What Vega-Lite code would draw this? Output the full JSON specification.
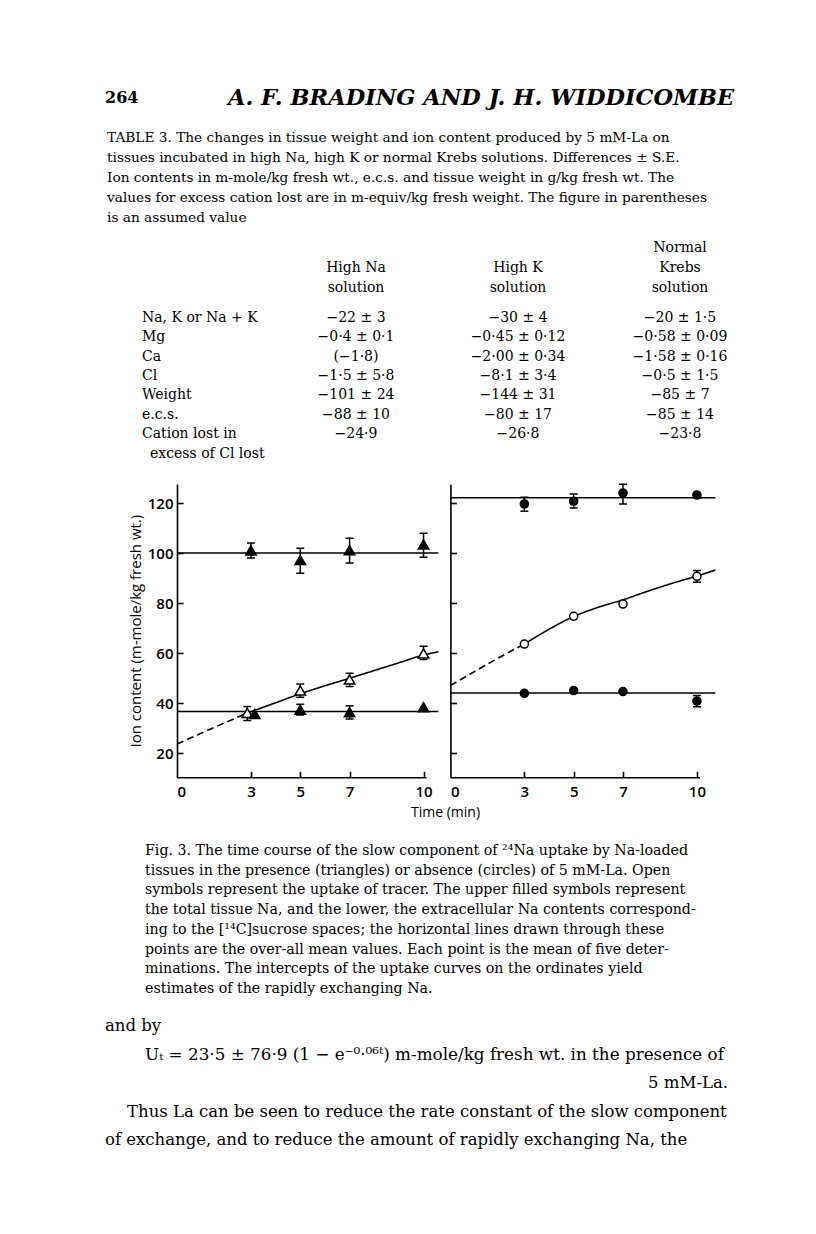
{
  "$schema": "https://vega.github.io/schema/vega-lite/v6.json",
  "background": "white",
  "padding": {"left": 105, "top": 87, "right": 10, "bottom": 10},
  "bounds": "flush",
  "spacing": 0,
  "config": {
    "view": {"stroke": null},
    "axis": {"grid": false, "domainColor": "black", "domainWidth": 1.6, "tickColor": "black", "tickWidth": 1.6, "tickSize": 6, "labelColor": "black", "labelFont": "Open Sans", "labelFontSize": 15, "labelFontWeight": 600, "titleColor": "black", "titleFont": "Open Sans", "titleFontWeight": "normal", "titleFontSize": 15, "zindex": 1},
    "axisX": {"labelPadding": 7, "titlePadding": 6, "titleFontSize": 14},
    "axisY": {"labelPadding": 4, "titlePadding": 4},
    "line": {"interpolate": "monotone"},
    "text": {"color": "black"}
  },
  "datasets": {
    "measurements": [
      {"panel": "La", "series": "total tissue Na", "t": 3, "v": 101.1},
      {"panel": "La", "series": "total tissue Na", "t": 5, "v": 97.3},
      {"panel": "La", "series": "total tissue Na", "t": 7, "v": 101.2},
      {"panel": "La", "series": "total tissue Na", "t": 10, "v": 103.5},
      {"panel": "La", "series": "tracer uptake", "t": 2.85, "v": 36.1},
      {"panel": "La", "series": "tracer uptake", "t": 5, "v": 45.1},
      {"panel": "La", "series": "tracer uptake", "t": 7, "v": 49.5},
      {"panel": "La", "series": "tracer uptake", "t": 10, "v": 59.9},
      {"panel": "La", "series": "extracellular Na", "t": 3.15, "v": 35.7},
      {"panel": "La", "series": "extracellular Na", "t": 5, "v": 37.4},
      {"panel": "La", "series": "extracellular Na", "t": 7, "v": 36.4},
      {"panel": "La", "series": "extracellular Na", "t": 10, "v": 38.4},
      {"panel": "Control", "series": "total tissue Na", "t": 3, "v": 119.7},
      {"panel": "Control", "series": "total tissue Na", "t": 5, "v": 120.8},
      {"panel": "Control", "series": "total tissue Na", "t": 7, "v": 124.1},
      {"panel": "Control", "series": "total tissue Na", "t": 10, "v": 123.3},
      {"panel": "Control", "series": "tracer uptake", "t": 3, "v": 63.7},
      {"panel": "Control", "series": "tracer uptake", "t": 5, "v": 74.8},
      {"panel": "Control", "series": "tracer uptake", "t": 7, "v": 79.7},
      {"panel": "Control", "series": "tracer uptake", "t": 10, "v": 90.8},
      {"panel": "Control", "series": "extracellular Na", "t": 3, "v": 44.0},
      {"panel": "Control", "series": "extracellular Na", "t": 5, "v": 45.1},
      {"panel": "Control", "series": "extracellular Na", "t": 7, "v": 44.7},
      {"panel": "Control", "series": "extracellular Na", "t": 10, "v": 40.9}
    ],
    "errors": [
      {"panel": "La", "t": 3, "lo": 98.1, "hi": 104.1},
      {"panel": "La", "t": 5, "lo": 92.0, "hi": 102.0},
      {"panel": "La", "t": 7, "lo": 96.1, "hi": 106.0},
      {"panel": "La", "t": 10, "lo": 98.4, "hi": 108.0},
      {"panel": "La", "t": 2.85, "lo": 33.1, "hi": 38.7},
      {"panel": "La", "t": 5, "lo": 42.4, "hi": 47.7},
      {"panel": "La", "t": 7, "lo": 46.7, "hi": 52.0},
      {"panel": "La", "t": 10, "lo": 57.5, "hi": 62.8},
      {"panel": "La", "t": 5, "lo": 35.3, "hi": 39.6},
      {"panel": "La", "t": 7, "lo": 33.7, "hi": 39.0},
      {"panel": "Control", "t": 3, "lo": 116.8, "hi": 122.4},
      {"panel": "Control", "t": 5, "lo": 118.1, "hi": 123.7},
      {"panel": "Control", "t": 7, "lo": 119.7, "hi": 127.6},
      {"panel": "Control", "t": 10, "lo": 88.4, "hi": 93.1},
      {"panel": "Control", "t": 10, "lo": 38.6, "hi": 43.1}
    ],
    "curves": [
      {"panel": "La", "curve": "total mean", "kind": "mean", "t": 0, "v": 100.1},
      {"panel": "La", "curve": "total mean", "kind": "mean", "t": 10.6, "v": 100.1},
      {"panel": "La", "curve": "ecs mean", "kind": "mean", "t": 0, "v": 36.7},
      {"panel": "La", "curve": "ecs mean", "kind": "mean", "t": 10.6, "v": 36.7},
      {"panel": "La", "curve": "uptake extrapolated", "kind": "extrapolated", "t": 0, "v": 23.7},
      {"panel": "La", "curve": "uptake extrapolated", "kind": "extrapolated", "t": 1.5, "v": 30.3},
      {"panel": "La", "curve": "uptake extrapolated", "kind": "extrapolated", "t": 2.9, "v": 36.3},
      {"panel": "La", "curve": "uptake fitted", "kind": "fitted", "t": 2.9, "v": 36.3},
      {"panel": "La", "curve": "uptake fitted", "kind": "fitted", "t": 4, "v": 40.2},
      {"panel": "La", "curve": "uptake fitted", "kind": "fitted", "t": 5, "v": 43.8},
      {"panel": "La", "curve": "uptake fitted", "kind": "fitted", "t": 6, "v": 47.0},
      {"panel": "La", "curve": "uptake fitted", "kind": "fitted", "t": 7, "v": 50.0},
      {"panel": "La", "curve": "uptake fitted", "kind": "fitted", "t": 8, "v": 53.1},
      {"panel": "La", "curve": "uptake fitted", "kind": "fitted", "t": 9, "v": 56.2},
      {"panel": "La", "curve": "uptake fitted", "kind": "fitted", "t": 10, "v": 59.3},
      {"panel": "La", "curve": "uptake fitted", "kind": "fitted", "t": 10.6, "v": 60.6},
      {"panel": "Control", "curve": "total mean", "kind": "mean", "t": 0, "v": 122.2},
      {"panel": "Control", "curve": "total mean", "kind": "mean", "t": 10.75, "v": 122.2},
      {"panel": "Control", "curve": "ecs mean", "kind": "mean", "t": 0, "v": 44.1},
      {"panel": "Control", "curve": "ecs mean", "kind": "mean", "t": 10.75, "v": 44.1},
      {"panel": "Control", "curve": "uptake extrapolated", "kind": "extrapolated", "t": 0, "v": 47.1},
      {"panel": "Control", "curve": "uptake extrapolated", "kind": "extrapolated", "t": 1, "v": 52.8},
      {"panel": "Control", "curve": "uptake extrapolated", "kind": "extrapolated", "t": 2, "v": 58.4},
      {"panel": "Control", "curve": "uptake extrapolated", "kind": "extrapolated", "t": 3, "v": 63.7},
      {"panel": "Control", "curve": "uptake fitted", "kind": "fitted", "t": 3, "v": 63.7},
      {"panel": "Control", "curve": "uptake fitted", "kind": "fitted", "t": 4, "v": 69.6},
      {"panel": "Control", "curve": "uptake fitted", "kind": "fitted", "t": 5, "v": 74.7},
      {"panel": "Control", "curve": "uptake fitted", "kind": "fitted", "t": 6, "v": 78.4},
      {"panel": "Control", "curve": "uptake fitted", "kind": "fitted", "t": 7, "v": 81.4},
      {"panel": "Control", "curve": "uptake fitted", "kind": "fitted", "t": 8, "v": 84.8},
      {"panel": "Control", "curve": "uptake fitted", "kind": "fitted", "t": 9, "v": 88.0},
      {"panel": "Control", "curve": "uptake fitted", "kind": "fitted", "t": 10, "v": 90.9},
      {"panel": "Control", "curve": "uptake fitted", "kind": "fitted", "t": 10.75, "v": 93.3}
    ]
  },
  "vconcat": [
    {
      "width": 640, "height": 20,
      "data": {"values": [{"part": "folio", "text": "264"}, {"part": "running head", "text": "A. F. BRADING AND J. H. WIDDICOMBE"}]},
      "layer": [
        {
          "transform": [{"filter": "datum.part === 'folio'"}],
          "mark": {"type": "text", "align": "left", "baseline": "middle", "font": "DejaVu Serif", "fontSize": 16, "fontWeight": "bold"},
          "encoding": {
            "x": {"field": "part", "type": "nominal", "scale": {"type": "point", "domain": ["folio", "running head"], "range": [0, 123], "padding": 0}, "axis": null},
            "text": {"field": "text"}
          }
        },
        {
          "transform": [{"filter": "datum.part === 'running head'"}],
          "mark": {"type": "text", "align": "left", "baseline": "middle", "font": "DejaVu Serif", "fontSize": 22.5, "fontStyle": "italic", "fontWeight": "bold"},
          "encoding": {
            "x": {"field": "part", "type": "nominal", "scale": {"type": "point", "domain": ["folio", "running head"], "range": [0, 123], "padding": 0}, "axis": null},
            "text": {"field": "text"}
          }
        }
      ]
    },
    {
      "width": 640, "height": 130,
      "data": {"values": [
        {"line": 0, "text": "TABLE 3. The changes in tissue weight and ion content produced by 5 mM-La on"},
        {"line": 1, "text": "tissues incubated in high Na, high K or normal Krebs solutions. Differences ± S.E."},
        {"line": 2, "text": "Ion contents in m-mole/kg fresh wt., e.c.s. and tissue weight in g/kg fresh wt. The"},
        {"line": 3, "text": "values for excess cation lost are in m-equiv/kg fresh weight. The figure in parentheses"},
        {"line": 4, "text": "is an assumed value"}
      ]},
      "mark": {"type": "text", "align": "left", "baseline": "middle", "font": "DejaVu Serif", "fontSize": 13.7},
      "encoding": {
        "x": {"value": 2},
        "y": {"field": "line", "type": "ordinal", "scale": {"type": "band", "range": [20, 120], "paddingInner": 0, "paddingOuter": 0}, "axis": null},
        "text": {"field": "text"}
      }
    },
    {
      "width": 640, "height": 69.3,
      "data": {"values": [
        {"line": 0, "col": "Normal Krebs solution", "text": "Normal"},
        {"line": 1, "col": "High Na solution", "text": "High Na"},
        {"line": 1, "col": "High K solution", "text": "High K"},
        {"line": 1, "col": "Normal Krebs solution", "text": "Krebs"},
        {"line": 2, "col": "High Na solution", "text": "solution"},
        {"line": 2, "col": "High K solution", "text": "solution"},
        {"line": 2, "col": "Normal Krebs solution", "text": "solution"}
      ]},
      "mark": {"type": "text", "align": "center", "baseline": "middle", "font": "DejaVu Serif", "fontSize": 14},
      "encoding": {
        "x": {"field": "col", "type": "nominal", "scale": {"type": "point", "domain": ["Variable", "High Na solution", "High K solution", "Normal Krebs solution"], "range": [89, 575], "padding": 0}, "axis": null},
        "y": {"field": "line", "type": "ordinal", "scale": {"type": "band", "domain": [0, 1, 2], "range": [0, 60], "paddingInner": 0, "paddingOuter": 0}, "axis": null},
        "text": {"field": "text"}
      }
    },
    {
      "width": 640, "height": 175.4,
      "data": {"values": [
        {"line": 0, "col": "Variable", "text": "Na, K or Na + K"},
        {"line": 0, "col": "High Na solution", "text": "−22 ± 3"},
        {"line": 0, "col": "High K solution", "text": "−30 ± 4"},
        {"line": 0, "col": "Normal Krebs solution", "text": "−20 ± 1·5"},
        {"line": 1, "col": "Variable", "text": "Mg"},
        {"line": 1, "col": "High Na solution", "text": "−0·4 ± 0·1"},
        {"line": 1, "col": "High K solution", "text": "−0·45 ± 0·12"},
        {"line": 1, "col": "Normal Krebs solution", "text": "−0·58 ± 0·09"},
        {"line": 2, "col": "Variable", "text": "Ca"},
        {"line": 2, "col": "High Na solution", "text": "(−1·8)"},
        {"line": 2, "col": "High K solution", "text": "−2·00 ± 0·34"},
        {"line": 2, "col": "Normal Krebs solution", "text": "−1·58 ± 0·16"},
        {"line": 3, "col": "Variable", "text": "Cl"},
        {"line": 3, "col": "High Na solution", "text": "−1·5 ± 5·8"},
        {"line": 3, "col": "High K solution", "text": "−8·1 ± 3·4"},
        {"line": 3, "col": "Normal Krebs solution", "text": "−0·5 ± 1·5"},
        {"line": 4, "col": "Variable", "text": "Weight"},
        {"line": 4, "col": "High Na solution", "text": "−101 ± 24"},
        {"line": 4, "col": "High K solution", "text": "−144 ± 31"},
        {"line": 4, "col": "Normal Krebs solution", "text": "−85 ± 7"},
        {"line": 5, "col": "Variable", "text": "e.c.s."},
        {"line": 5, "col": "High Na solution", "text": "−88 ± 10"},
        {"line": 5, "col": "High K solution", "text": "−80 ± 17"},
        {"line": 5, "col": "Normal Krebs solution", "text": "−85 ± 14"},
        {"line": 6, "col": "Variable", "text": "Cation lost in"},
        {"line": 6, "col": "High Na solution", "text": "−24·9"},
        {"line": 6, "col": "High K solution", "text": "−26·8"},
        {"line": 6, "col": "Normal Krebs solution", "text": "−23·8"},
        {"line": 7, "col": "Variable", "text": "excess of Cl lost"}
      ]},
      "layer": [
        {
          "transform": [{"filter": "datum.col === 'Variable' && datum.line < 7"}],
          "mark": {"type": "text", "align": "left", "baseline": "middle", "font": "DejaVu Serif", "fontSize": 14, "dx": -52},
          "encoding": {
            "x": {"field": "col", "type": "nominal", "scale": {"type": "point", "domain": ["Variable", "High Na solution", "High K solution", "Normal Krebs solution"], "range": [89, 575], "padding": 0}, "axis": null},
            "y": {"field": "line", "type": "ordinal", "scale": {"type": "band", "domain": [0, 1, 2, 3, 4, 5, 6, 7], "range": [0, 155.2], "paddingInner": 0, "paddingOuter": 0}, "axis": null},
            "text": {"field": "text"}
          }
        },
        {
          "transform": [{"filter": "datum.col === 'Variable' && datum.line === 7"}],
          "mark": {"type": "text", "align": "left", "baseline": "middle", "font": "DejaVu Serif", "fontSize": 14, "dx": -44},
          "encoding": {
            "x": {"field": "col", "type": "nominal", "scale": {"type": "point", "domain": ["Variable", "High Na solution", "High K solution", "Normal Krebs solution"], "range": [89, 575], "padding": 0}, "axis": null},
            "y": {"field": "line", "type": "ordinal", "scale": {"type": "band", "domain": [0, 1, 2, 3, 4, 5, 6, 7], "range": [0, 155.2], "paddingInner": 0, "paddingOuter": 0}, "axis": null},
            "text": {"field": "text"}
          }
        },
        {
          "transform": [{"filter": "datum.col !== 'Variable'"}],
          "mark": {"type": "text", "align": "center", "baseline": "middle", "font": "DejaVu Serif", "fontSize": 14},
          "encoding": {
            "x": {"field": "col", "type": "nominal", "scale": {"type": "point", "domain": ["Variable", "High Na solution", "High K solution", "Normal Krebs solution"], "range": [89, 575], "padding": 0}, "axis": null},
            "y": {"field": "line", "type": "ordinal", "scale": {"type": "band", "domain": [0, 1, 2, 3, 4, 5, 6, 7], "range": [0, 155.2], "paddingInner": 0, "paddingOuter": 0}, "axis": null},
            "text": {"field": "text"}
          }
        }
      ]
    },
    {
      "width": 595, "height": 293.3,
      "layer": [
        {
          "layer": [
            {
              "data": {"name": "curves"},
              "transform": [{"filter": "datum.panel === 'La'"}],
              "mark": {"type": "line", "color": "black", "strokeWidth": 1.6},
              "encoding": {
                "x": {"field": "t", "type": "quantitative", "scale": {"domain": [0, 10.1], "range": [72, 321], "nice": false, "zero": false}, "axis": {"orient": "bottom", "values": [0, 3, 5, 7, 10], "ticks": false, "title": "Time (min)", "titleX": 340}},
                "y": {"field": "v", "type": "quantitative", "scale": {"domain": [10.4, 127.7], "nice": false, "zero": false}, "axis": {"orient": "left", "offset": -72, "values": [20, 40, 60, 80, 100, 120], "ticks": false, "title": "Ion content (m-mole/kg fresh wt.)"}},
                "detail": {"field": "curve"},
                "strokeDash": {"field": "kind", "type": "nominal", "scale": {"domain": ["mean", "fitted", "extrapolated"], "range": [[1, 0], [1, 0], [7, 4]]}, "legend": null}
              }
            },
            {
              "data": {"name": "errors"},
              "transform": [{"filter": "datum.panel === 'La'"}],
              "mark": {"type": "rule", "color": "black", "strokeWidth": 1.5},
              "encoding": {
                "x": {"field": "t", "type": "quantitative", "scale": {"domain": [0, 10.1], "range": [72, 321], "nice": false, "zero": false}, "axis": {"orient": "bottom", "offset": -6, "values": [3, 5, 7, 10], "domain": false, "labels": false, "title": null}},
                "y": {"field": "lo", "type": "quantitative", "scale": {"domain": [10.4, 127.7], "nice": false, "zero": false}, "axis": {"orient": "left", "offset": -78, "values": [20, 40, 60, 80, 100, 120], "domain": false, "labels": false, "title": null}},
                "y2": {"field": "hi"}
              }
            },
            {
              "data": {"name": "errors"},
              "transform": [{"filter": "datum.panel === 'La'"}, {"fold": ["lo", "hi"], "as": ["end", "value"]}],
              "mark": {"type": "tick", "orient": "horizontal", "size": 8, "thickness": 1.5, "color": "black", "opacity": 1},
              "encoding": {
                "x": {"field": "t", "type": "quantitative", "scale": {"domain": [0, 10.1], "range": [72, 321], "nice": false, "zero": false}, "axis": null},
                "y": {"field": "value", "type": "quantitative", "scale": {"domain": [10.4, 127.7], "nice": false, "zero": false}, "axis": null}
              }
            },
            {
              "data": {"name": "measurements"},
              "transform": [{"filter": "datum.panel === 'La'"}],
              "mark": {"type": "point", "shape": "triangle-up", "size": 110, "filled": true, "stroke": "black", "strokeWidth": 1.5, "opacity": 1},
              "encoding": {
                "x": {"field": "t", "type": "quantitative", "scale": {"domain": [0, 10.1], "range": [72, 321], "nice": false, "zero": false}, "axis": null},
                "y": {"field": "v", "type": "quantitative", "scale": {"domain": [10.4, 127.7], "nice": false, "zero": false}, "axis": null},
                "fill": {"field": "series", "type": "nominal", "scale": {"domain": ["total tissue Na", "tracer uptake", "extracellular Na"], "range": ["black", "white", "black"]}, "legend": null}
              }
            }
          ],
          "resolve": {"axis": {"x": "independent", "y": "independent"}}
        },
        {
          "layer": [
            {
              "data": {"name": "curves"},
              "transform": [{"filter": "datum.panel === 'Control'"}],
              "mark": {"type": "line", "color": "black", "strokeWidth": 1.6},
              "encoding": {
                "x": {"field": "t", "type": "quantitative", "scale": {"domain": [0, 10.1], "range": [345.4, 594.4], "nice": false, "zero": false}, "axis": {"orient": "bottom", "values": [0, 3, 5, 7, 10], "ticks": false, "title": null}},
                "y": {"field": "v", "type": "quantitative", "scale": {"domain": [10.4, 127.7], "nice": false, "zero": false}, "axis": {"orient": "left", "offset": -345.4, "values": [20, 40, 60, 80, 100, 120], "ticks": false, "labels": false, "title": null}},
                "detail": {"field": "curve"},
                "strokeDash": {"field": "kind", "type": "nominal", "scale": {"domain": ["mean", "fitted", "extrapolated"], "range": [[1, 0], [1, 0], [7, 4]]}, "legend": null}
              }
            },
            {
              "data": {"name": "errors"},
              "transform": [{"filter": "datum.panel === 'Control'"}],
              "mark": {"type": "rule", "color": "black", "strokeWidth": 1.5},
              "encoding": {
                "x": {"field": "t", "type": "quantitative", "scale": {"domain": [0, 10.1], "range": [345.4, 594.4], "nice": false, "zero": false}, "axis": {"orient": "bottom", "offset": -6, "values": [3, 5, 7, 10], "domain": false, "labels": false, "title": null}},
                "y": {"field": "lo", "type": "quantitative", "scale": {"domain": [10.4, 127.7], "nice": false, "zero": false}, "axis": {"orient": "left", "offset": -351.4, "values": [20, 40, 60, 80, 100, 120], "domain": false, "labels": false, "title": null}},
                "y2": {"field": "hi"}
              }
            },
            {
              "data": {"name": "errors"},
              "transform": [{"filter": "datum.panel === 'Control'"}, {"fold": ["lo", "hi"], "as": ["end", "value"]}],
              "mark": {"type": "tick", "orient": "horizontal", "size": 8, "thickness": 1.5, "color": "black", "opacity": 1},
              "encoding": {
                "x": {"field": "t", "type": "quantitative", "scale": {"domain": [0, 10.1], "range": [345.4, 594.4], "nice": false, "zero": false}, "axis": null},
                "y": {"field": "value", "type": "quantitative", "scale": {"domain": [10.4, 127.7], "nice": false, "zero": false}, "axis": null}
              }
            },
            {
              "data": {"name": "measurements"},
              "transform": [{"filter": "datum.panel === 'Control'"}],
              "mark": {"type": "point", "shape": "circle", "size": 65, "filled": true, "stroke": "black", "strokeWidth": 1.5, "opacity": 1},
              "encoding": {
                "x": {"field": "t", "type": "quantitative", "scale": {"domain": [0, 10.1], "range": [345.4, 594.4], "nice": false, "zero": false}, "axis": null},
                "y": {"field": "v", "type": "quantitative", "scale": {"domain": [10.4, 127.7], "nice": false, "zero": false}, "axis": null},
                "fill": {"field": "series", "type": "nominal", "scale": {"domain": ["total tissue Na", "tracer uptake", "extracellular Na"], "range": ["black", "white", "black"]}, "legend": null}
              }
            }
          ],
          "resolve": {"axis": {"x": "independent", "y": "independent"}}
        }
      ],
      "resolve": {"scale": {"x": "independent", "y": "independent"}, "axis": {"x": "independent", "y": "independent"}}
    },
    {
      "width": 640, "height": 233.75,
      "data": {"values": [
        {"line": 0, "text": "Fig. 3. The time course of the slow component of ²⁴Na uptake by Na-loaded"},
        {"line": 1, "text": "tissues in the presence (triangles) or absence (circles) of 5 mM-La. Open"},
        {"line": 2, "text": "symbols represent the uptake of tracer. The upper filled symbols represent"},
        {"line": 3, "text": "the total tissue Na, and the lower, the extracellular Na contents correspond-"},
        {"line": 4, "text": "ing to the [¹⁴C]sucrose spaces; the horizontal lines drawn through these"},
        {"line": 5, "text": "points are the over-all mean values. Each point is the mean of five deter-"},
        {"line": 6, "text": "minations. The intercepts of the uptake curves on the ordinates yield"},
        {"line": 7, "text": "estimates of the rapidly exchanging Na."}
      ]},
      "mark": {"type": "text", "align": "left", "baseline": "middle", "font": "DejaVu Serif", "fontSize": 14.2},
      "encoding": {
        "x": {"value": 40},
        "y": {"field": "line", "type": "ordinal", "scale": {"type": "band", "range": [63.2, 220.8], "paddingInner": 0, "paddingOuter": 0}, "axis": null},
        "text": {"field": "text"}
      }
    },
    {
      "width": 640, "height": 142.5,
      "data": {"values": [
        {"line": 0, "role": "text", "text": "and by"},
        {"line": 1, "role": "equation", "text": "Uₜ  = 23·5 ± 76·9 (1 − e⁻⁰·⁰⁶ᵗ) m-mole/kg fresh wt. in the presence of"},
        {"line": 2, "role": "equation end", "text": "5 mM-La."},
        {"line": 3, "role": "paragraph start", "text": "Thus La can be seen to reduce the rate constant of the slow component"},
        {"line": 4, "role": "text", "text": "of exchange, and to reduce the amount of rapidly exchanging Na, the"}
      ]},
      "layer": [
        {
          "transform": [{"filter": "datum.role === 'text'"}],
          "mark": {"type": "text", "align": "left", "baseline": "middle", "font": "DejaVu Serif", "fontSize": 16.5},
          "encoding": {
            "x": {"value": 0},
            "y": {"field": "line", "type": "ordinal", "scale": {"type": "band", "domain": [0, 1, 2, 3, 4], "range": [0, 142.5], "paddingInner": 0, "paddingOuter": 0}, "axis": null},
            "text": {"field": "text"}
          }
        },
        {
          "transform": [{"filter": "datum.role === 'equation'"}],
          "mark": {"type": "text", "align": "left", "baseline": "middle", "font": "DejaVu Serif", "fontSize": 16.8},
          "encoding": {
            "x": {"value": 40},
            "y": {"field": "line", "type": "ordinal", "scale": {"type": "band", "domain": [0, 1, 2, 3, 4], "range": [0, 142.5], "paddingInner": 0, "paddingOuter": 0}, "axis": null},
            "text": {"field": "text"}
          }
        },
        {
          "transform": [{"filter": "datum.role === 'equation end'"}],
          "mark": {"type": "text", "align": "right", "baseline": "middle", "font": "DejaVu Serif", "fontSize": 16.5},
          "encoding": {
            "x": {"value": 623},
            "y": {"field": "line", "type": "ordinal", "scale": {"type": "band", "domain": [0, 1, 2, 3, 4], "range": [0, 142.5], "paddingInner": 0, "paddingOuter": 0}, "axis": null},
            "text": {"field": "text"}
          }
        },
        {
          "transform": [{"filter": "datum.role === 'paragraph start'"}],
          "mark": {"type": "text", "align": "left", "baseline": "middle", "font": "DejaVu Serif", "fontSize": 16.5},
          "encoding": {
            "x": {"value": 22},
            "y": {"field": "line", "type": "ordinal", "scale": {"type": "band", "domain": [0, 1, 2, 3, 4], "range": [0, 142.5], "paddingInner": 0, "paddingOuter": 0}, "axis": null},
            "text": {"field": "text"}
          }
        }
      ]
    }
  ]
}
